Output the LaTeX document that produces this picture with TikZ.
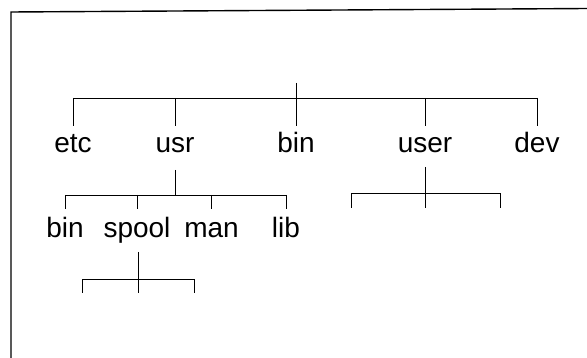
\documentclass[tikz,border=0pt]{standalone}
\usepackage{fontspec}
\setmainfont{Liberation Sans}
\begin{document}
\begin{tikzpicture}[x=1pt,y=-1pt,
  lbl/.style={anchor=base,inner sep=0pt,font=\fontsize{28}{32}\selectfont},
  tree/.style={line width=0.8pt},
  frame/.style={line width=1.4pt}]
\useasboundingbox (0,0) rectangle (587,358);
% frame
\coordinate (fTL) at (11,12);
\coordinate (fTR) at (587,8.5);
\coordinate (fBL) at (11,358);
\draw[frame] (fTR) -- (fTL) -- (fBL);
% first level labels
\node[lbl] (etc) at (73,153) {etc};
\node[lbl] (usr) at (175,153) {usr};
\node[lbl] (bin) at (296,153) {bin};
\node[lbl] (user) at (425,153) {user};
\node[lbl] (dev) at (537,153) {dev};
% root
\coordinate (root) at (296,83);
\coordinate (h0) at (0,98);
\coordinate (b0) at (0,126);
\draw[tree] (etc |- h0) -- (dev |- h0);
\draw[tree] (root) -- (bin |- b0);
\foreach \n in {etc,usr,user,dev} \draw[tree] (\n |- h0) -- (\n |- b0);
% usr subtree
\node[lbl] (bin2) at (65,238) {bin};
\node[lbl] (spool) at (137,238) {spool};
\node[lbl] (man) at (211.5,238) {man};
\node[lbl] (lib) at (286,238) {lib};
\coordinate (ut) at (0,170);
\coordinate (uh) at (0,195);
\coordinate (ub) at (0,209);
\draw[tree] (usr |- ut) -- (usr |- uh);
\draw[tree] (bin2 |- uh) -- (lib |- uh);
\foreach \n in {bin2,spool,man,lib} \draw[tree] (\n |- uh) -- (\n |- ub);
% user subtree
\coordinate (ust) at (425,167);
\coordinate (usb) at (0,208);
\coordinate (usL) at (351,193);
\coordinate (usR) at (500,193);
\draw[tree] (ust) -- (ust |- usb);
\draw[tree] (usL |- usb) -- (usL) -- (usR) -- (usR |- usb);
% spool subtree
\coordinate (spt) at (138.5,252);
\coordinate (spb) at (0,293);
\coordinate (spL) at (82,279);
\coordinate (spR) at (194,279);
\draw[tree] (spt) -- (spt |- spb);
\draw[tree] (spL |- spb) -- (spL) -- (spR) -- (spR |- spb);
\end{tikzpicture}
\end{document}
